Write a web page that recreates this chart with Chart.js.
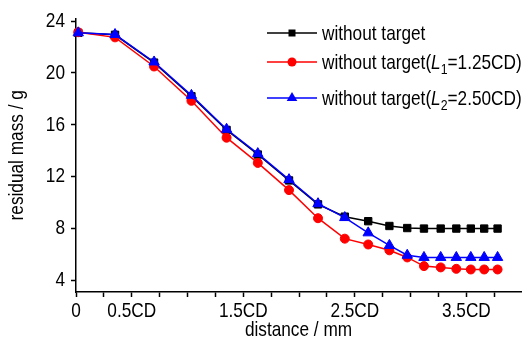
<!DOCTYPE html>
<html lang="en">

<head>
    <meta charset="utf-8">
    <title>residual mass vs distance</title>
    <script src="https://cdn.jsdelivr.net/npm/chart.js@4.4.1/dist/chart.umd.min.js"></script>
    <style>
        html, body { margin: 0; padding: 0; background: #fff; }
        .kontainer { position: relative; width: 528px; height: 343px; }
        .legend {
            position: absolute; left: 267px; top: 0;
            font-family: "Liberation Sans", Arial, sans-serif;
            font-size: 21px; color: #000;
        }
        .legend .rad { position: absolute; left: 0; white-space: nowrap; display: flex; align-items: center; height: 24px; }
        .legend svg { width: 50px; height: 14px; margin-right: 5px; flex: none; }
        .legend .txt { display: inline-block; transform: scaleX(0.82); transform-origin: 0 50%; }
        .legend sub { font-size: 15px; vertical-align: -5px; line-height: 0; }
    </style>
</head>

<body>
    <div class="kontainer">
        <canvas id="myChart" width="528" height="343"></canvas>
        <div class="legend">
            <div class="rad" style="top:21px">
                <svg viewBox="0 0 50 14"><line x1="0" y1="7" x2="50" y2="7" stroke="#000" stroke-width="1.5"/><rect x="21.5" y="3.5" width="7" height="7" fill="#000"/></svg>
                <span class="txt">without target</span>
            </div>
            <div class="rad" style="top:50px">
                <svg viewBox="0 0 50 14"><line x1="0" y1="7" x2="50" y2="7" stroke="#f00" stroke-width="1.5"/><circle cx="25" cy="7" r="4.5" fill="#f00"/></svg>
                <span class="txt">without target(<i>L</i><sub>1</sub>=1.25CD)</span>
            </div>
            <div class="rad" style="top:86px">
                <svg viewBox="0 0 50 14"><line x1="0" y1="7" x2="50" y2="7" stroke="#00f" stroke-width="1.5"/><polygon points="25,1 30.3,10 19.7,10" fill="#00f"/></svg>
                <span class="txt">without target(<i>L</i><sub>2</sub>=2.50CD)</span>
            </div>
        </div>
    </div>
    <script>
        // avstånd i CD
        const avstand = [0.02, 0.35, 0.70, 1.035, 1.35, 1.63, 1.91, 2.17, 2.41, 2.62, 2.81, 2.97, 3.12, 3.27, 3.41, 3.54, 3.66, 3.78];

        // restmassa (g)
        const utanMal   = [23.1, 22.95, 20.8, 18.2, 15.6, 13.7, 11.7, 9.85, 8.9, 8.55, 8.18, 8.02, 7.98, 7.98, 7.98, 7.98, 7.98, 7.98];
        const utanMalL1 = [23.15, 22.75, 20.5, 17.85, 15.0, 13.05, 10.95, 8.78, 7.2, 6.75, 6.3, 5.75, 5.08, 4.98, 4.87, 4.82, 4.82, 4.82];
        const utanMalL2 = [23.1, 22.97, 20.85, 18.27, 15.65, 13.77, 11.76, 9.9, 8.83, 7.65, 6.68, 5.92, 5.75, 5.75, 5.75, 5.75, 5.75, 5.75];

        // axlar
        const xTicks = [0, 0.25, 0.5, 0.75, 1, 1.25, 1.5, 1.75, 2, 2.25, 2.5, 2.75, 3, 3.25, 3.5, 3.75];
        const xLabelValues = [0, 0.5, 1.5, 2.5, 3.5];
        const xLabelTexts = ['0', '0.5CD', '1.5CD', '2.5CD', '3.5CD'];
        const yTicks = [4, 6, 8, 10, 12, 14, 16, 18, 20, 22, 24];
        const yLabelValues = [4, 8, 12, 16, 20, 24];

        const font = { family: '"Liberation Sans", Arial, sans-serif', size: 21 };

        // smal text (som Arial Narrow i originalet)
        const smalText = {
            id: 'smalText',
            beforeDraw(chart) {
                const c = chart.ctx;
                if (c._smal) return;
                const orig = c.fillText.bind(c);
                c.fillText = function (t, x, y) {
                    c.save();
                    c.translate(x, y);
                    c.scale(0.82, 1);
                    orig(t, 0, 0);
                    c.restore();
                };
                c._smal = true;
            }
        };

        function serie(label, values, color, style, radius, order) {
            return {
                label: label,
                data: avstand.map((x, i) => ({ x: x, y: values[i] })),
                borderColor: color,
                backgroundColor: color,
                pointBackgroundColor: color,
                pointBorderColor: color,
                pointStyle: style,
                pointRadius: radius,
                pointBorderWidth: 1,
                borderWidth: 1.5,
                tension: 0,
                clip: false,
                order: order
            };
        }

        const ctx = document.getElementById('myChart').getContext('2d');
        const myChart = new Chart(ctx, {
            type: 'line',
            data: {
                datasets: [
                    serie('without target', utanMal, '#000000', 'rect', 5.2, 3),
                    serie('without target(L1=1.25CD)', utanMalL1, '#ff0000', 'circle', 4.5, 2),
                    serie('without target(L2=2.50CD)', utanMalL2, '#0000ff', 'triangle', 6, 1)
                ]
            },
            plugins: [smalText],
            options: {
                responsive: false,
                animation: false,
                layout: { padding: { top: 17, right: 0, left: 0, bottom: 0 } },
                plugins: { legend: { display: false }, tooltip: { enabled: false } },
                scales: {
                    x: {
                        type: 'linear',
                        min: 0,
                        max: 3.99,
                        afterBuildTicks: s => { s.ticks = xTicks.map(v => ({ value: v })); },
                        afterFit: s => { s.height = 51; },
                        ticks: {
                            autoSkip: false,
                            maxRotation: 0,
                            color: '#000',
                            font: font,
                            padding: 2,
                            callback: v => {
                                const i = xLabelValues.indexOf(v);
                                return i >= 0 ? xLabelTexts[i] : '';
                            }
                        },
                        grid: { drawOnChartArea: false, tickLength: 5, tickColor: '#000', tickWidth: 1.5 },
                        border: { color: '#000', width: 1.5 },
                        title: { display: true, text: 'distance / mm', color: '#000', font: font, padding: 0 }
                    },
                    y: {
                        min: 3.08,
                        max: 24.2,
                        afterBuildTicks: s => { s.ticks = yTicks.map(v => ({ value: v })); },
                        afterFit: s => { s.width = 76; },
                        ticks: {
                            color: '#000',
                            font: font,
                            padding: 6,
                            callback: v => yLabelValues.includes(v) ? String(v) : ''
                        },
                        grid: { drawOnChartArea: false, tickLength: 5, tickColor: '#000', tickWidth: 1.5 },
                        border: { color: '#000', width: 1.5 },
                        title: { display: true, text: 'residual mass / g', color: '#000', font: font, padding: { top: 5, bottom: 0 } }
                    }
                }
            }
        });
    </script>
</body>

</html>
